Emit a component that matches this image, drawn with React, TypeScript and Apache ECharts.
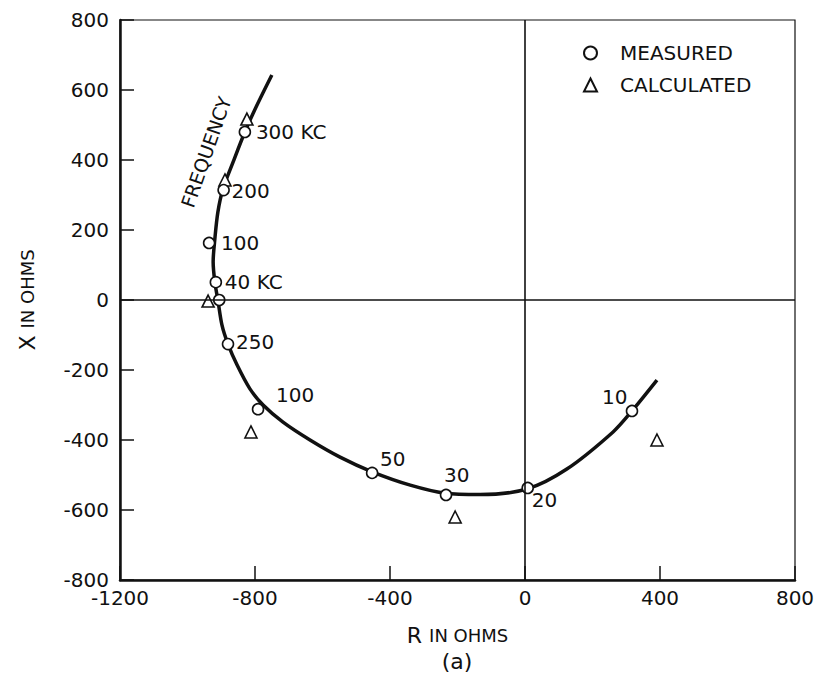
import React, { useEffect, useRef } from "react";
import * as echarts from "echarts";

// Measured points (R, X in ohms) and their frequency labels
const measuredR = [-830, -893, -936, -916, -906, -880, -791, -453, -234, 8, 317];
const measuredX = [480, 314, 163, 51, 0, -126, -312, -494, -557, -537, -317];
const measuredLabels = ["300 KC", "200", "100", "40 KC", "", "250", "100", "50", "30", "20", "10"];

// Calculated points
const calculatedR = [-824, -889, -939, -812, -207, 391];
const calculatedX = [517, 343, -3, -377, -620, -400];

// Smooth curve drawn through the measurements
const curveR = [-750, -794, -830, -865, -895, -910, -919, -924, -919, -910, -898, -880, -853, -815, -776, -717, -637, -548, -453, -340, -237, -133, 6, 124, 261, 317, 391];
const curveX = [643, 557, 480, 394, 317, 251, 174, 109, 51, 0, -71, -126, -186, -254, -300, -349, -400, -449, -491, -529, -552, -556, -540, -483, -377, -317, -229];

const xTicks = [-1200, -800, -400, 0, 400, 800];
const yTicks = [-800, -600, -400, -200, 0, 200, 400, 600, 800];

// label offsets (style only)
const labelOffsets: number[][] = [
  [11, 0], [8, 1], [12, 0], [9, 0], [0, 0], [8, -2], [18, -14], [8, -14], [-2, -20], [4, 12], [-30, -14],
];

const FONT = "DejaVu Sans";
const INK = "#111";

export default function App() {
  const ref = useRef<HTMLDivElement>(null);
  useEffect(() => {
    if (!ref.current) return;
    const chart = echarts.init(ref.current, undefined, { renderer: "svg" });
    const measuredData = measuredR.map((r, i) => ({
      value: [r, measuredX[i]],
      label: {
        show: measuredLabels[i] !== "",
        formatter: measuredLabels[i],
        position: "inside",
        align: "left",
        verticalAlign: "middle",
        offset: labelOffsets[i],
      },
    }));
    const calculatedData = calculatedR.map((r, i) => [r, calculatedX[i]]);
    const curveData = curveR.map((r, i) => [r, curveX[i]]);

    const axisName = {
      rich: {
        a: { fontFamily: FONT, fontSize: 22, color: INK, padding: [0, 7, 0, 0] },
        b: { fontFamily: FONT, fontSize: 18, color: INK },
      },
    };

    chart.setOption({
      animation: false,
      backgroundColor: "#fff",
      textStyle: { fontFamily: FONT, color: INK },
      grid: { left: 120, right: 30, top: 20, bottom: 114, show: true, borderColor: INK, borderWidth: 1.2 },
      legend: {
        data: ["MEASURED", "CALCULATED"],
        orient: "vertical",
        left: 578,
        top: 38,
        itemWidth: 13,
        itemHeight: 13,
        itemGap: 12,
        textStyle: { fontFamily: FONT, fontSize: 20, color: INK, padding: [0, 0, 0, 18] },
      },
      xAxis: {
        type: "value",
        min: xTicks[0],
        max: xTicks[xTicks.length - 1],
        interval: 400,
        name: "{a|R}{b|IN OHMS}",
        nameLocation: "middle",
        nameGap: 44,
        nameTextStyle: axisName,
        axisLine: { show: true, onZero: false, lineStyle: { color: INK, width: 2.5 } },
        axisTick: { show: true, inside: true, length: 14, lineStyle: { color: INK, width: 1.5 } },
        splitLine: { show: false },
        axisLabel: { fontSize: 20, color: INK, margin: 8, fontFamily: FONT, formatter: (v: number) => String(v) },
      },
      yAxis: {
        type: "value",
        min: yTicks[0],
        max: yTicks[yTicks.length - 1],
        interval: 200,
        name: "{a|X}{b|IN OHMS}",
        nameLocation: "middle",
        nameGap: 82,
        nameRotate: 90,
        nameTextStyle: axisName,
        axisLine: { show: true, onZero: false, lineStyle: { color: INK, width: 2.5 } },
        axisTick: { show: true, inside: true, length: 14, lineStyle: { color: INK, width: 1.5 } },
        splitLine: { show: false },
        axisLabel: { fontSize: 20, color: INK, margin: 11, fontFamily: FONT, formatter: (v: number) => String(v) },
      },
      series: [
        {
          type: "line",
          name: "curve",
          data: curveData,
          smooth: 0.3,
          showSymbol: false,
          symbol: "none",
          lineStyle: { color: INK, width: 3.5 },
          z: 2,
          markLine: {
            silent: true,
            symbol: "none",
            label: { show: false },
            lineStyle: { color: INK, width: 1.6, type: "solid" },
            data: [{ xAxis: 0 }, { yAxis: 0 }],
          },
        },
        {
          type: "scatter",
          name: "MEASURED",
          data: measuredData,
          symbol: "circle",
          symbolSize: 11,
          itemStyle: { color: "#fff", borderColor: INK, borderWidth: 1.6, opacity: 1 },
          label: { fontFamily: FONT, fontSize: 20, color: INK },
          z: 4,
        },
        {
          type: "scatter",
          name: "CALCULATED",
          data: calculatedData,
          symbol: "triangle",
          symbolSize: 12,
          itemStyle: { color: "#fff", borderColor: INK, borderWidth: 1.6, opacity: 1 },
          z: 3,
        },
      ],
      graphic: [
        {
          type: "text",
          x: 206,
          y: 152,
          rotation: 1.234,
          style: {
            text: "FREQUENCY",
            fontFamily: FONT,
            fontSize: 19,
            fill: INK,
            align: "center",
            verticalAlign: "middle",
          },
        },
        {
          type: "text",
          x: 457,
          y: 661,
          style: {
            text: "(a)",
            fontFamily: FONT,
            fontSize: 22,
            fill: INK,
            align: "center",
            verticalAlign: "middle",
          },
        },
      ],
    });
    return () => chart.dispose();
  }, []);
  return <div ref={ref} style={{ width: 825, height: 694, position: "absolute", left: 0, top: 0 }} />;
}
